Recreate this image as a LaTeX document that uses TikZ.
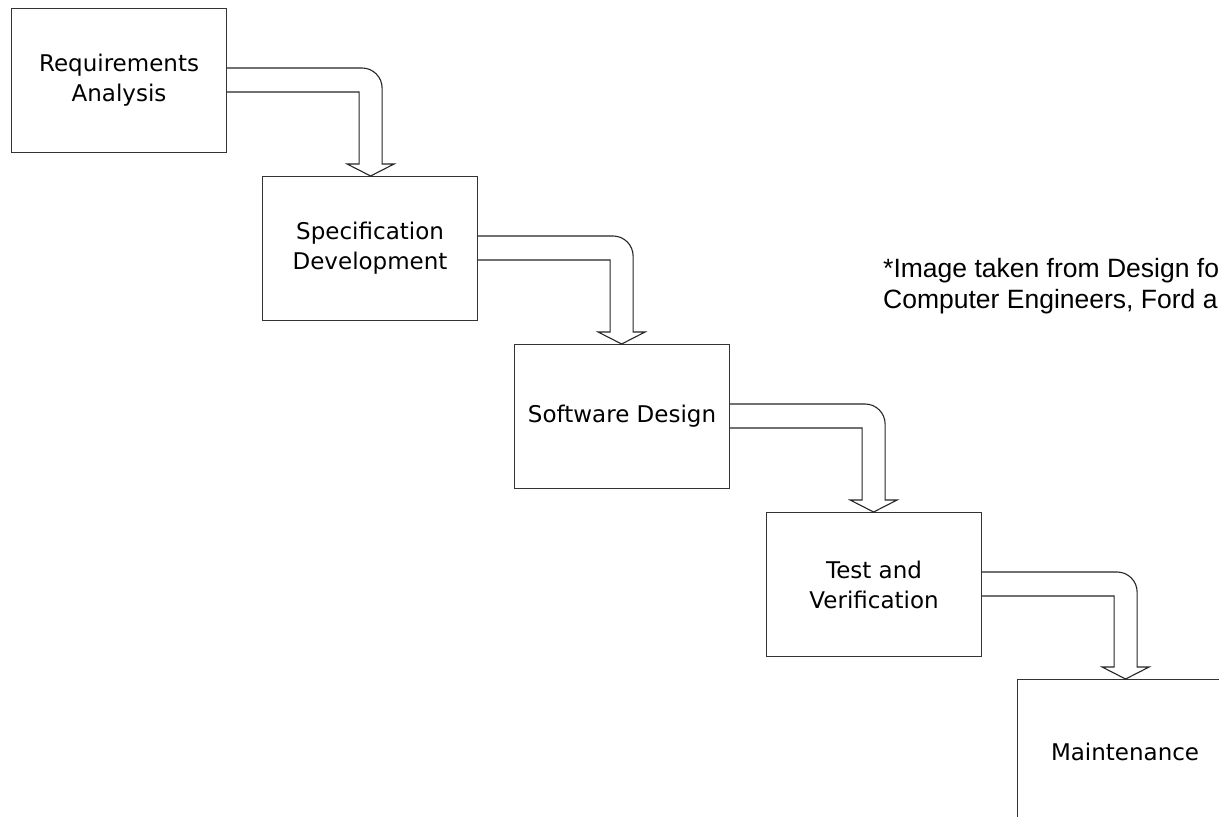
\documentclass[tikz,border=0pt]{standalone}
\usepackage{fontspec}
\setmainfont{DejaVu Sans}
\newfontfamily\notefont{Liberation Sans}
\usetikzlibrary{calc}

\tikzset{
  stage/.style={draw=black!80, line width=1.1pt, fill=white, anchor=north west,
    minimum width=215pt, minimum height=144pt, inner sep=0pt, align=center,
    font=\fontsize{23}{30}\selectfont},
  flow/.style={draw=black!85, line width=1.1pt, line join=miter},
  note/.style={anchor=base west, align=left, inner sep=0pt,
    font=\notefont\fontsize{26.5}{31}\selectfont}
}

\begin{document}
\begin{tikzpicture}[x=1pt, y=-1pt]
  \useasboundingbox (0,0) rectangle (1219,817);
  \fill[white] (0,0) rectangle (1219,817);

  % the five stages of the waterfall
  \node[stage] (b1) at (11,8)     {Requirements\\Analysis};
  \node[stage] (b2) at (262,176)  {Specification\\Development};
  \node[stage] (b3) at (514,344)  {Software Design};
  \node[stage] (b4) at (766,512)  {Test and\\Verification};
  \node[stage] (b5) at (1017,679) {Maintenance};

  % hollow bent arrows from each stage down to the next
  \foreach \a/\b in {b1/b2, b2/b3, b3/b4, b4/b5}{
    \coordinate (U)  at ($(\a.north east)+(0,60)$);
    \coordinate (L)  at ($(\a.north east)+(0,84)$);
    \coordinate (W)  at ($(\b.north)+(0,-12)$);
    \coordinate (Ox) at ($(U)+(155,0)$);
    \coordinate (Ow) at ($(U)+(167,0)$);
    \coordinate (Ix) at ($(L)+(132,0)$);
    \coordinate (Iw) at ($(L)+(120,0)$);
    \coordinate (Tx) at ($(U)+(143.5,0)$);
    \draw[flow] (U) -- ($(U)+(135,0)$)
      .. controls ($(U)+(146,0)$) and ($(U)+(155,9)$) .. ($(U)+(155,20)$)
      -- (Ox |- W) -- (Ow |- W) -- (Tx |- \b.north)
      -- (Iw |- W) -- (Ix |- W) -- (Ix) -- (L);
  }

  % source note (anchored at the baseline of its second line)
  \node[note] (cite) at (883,308)
    {*Image taken from Design for\\Computer Engineers, Ford and};
\end{tikzpicture}
\end{document}
